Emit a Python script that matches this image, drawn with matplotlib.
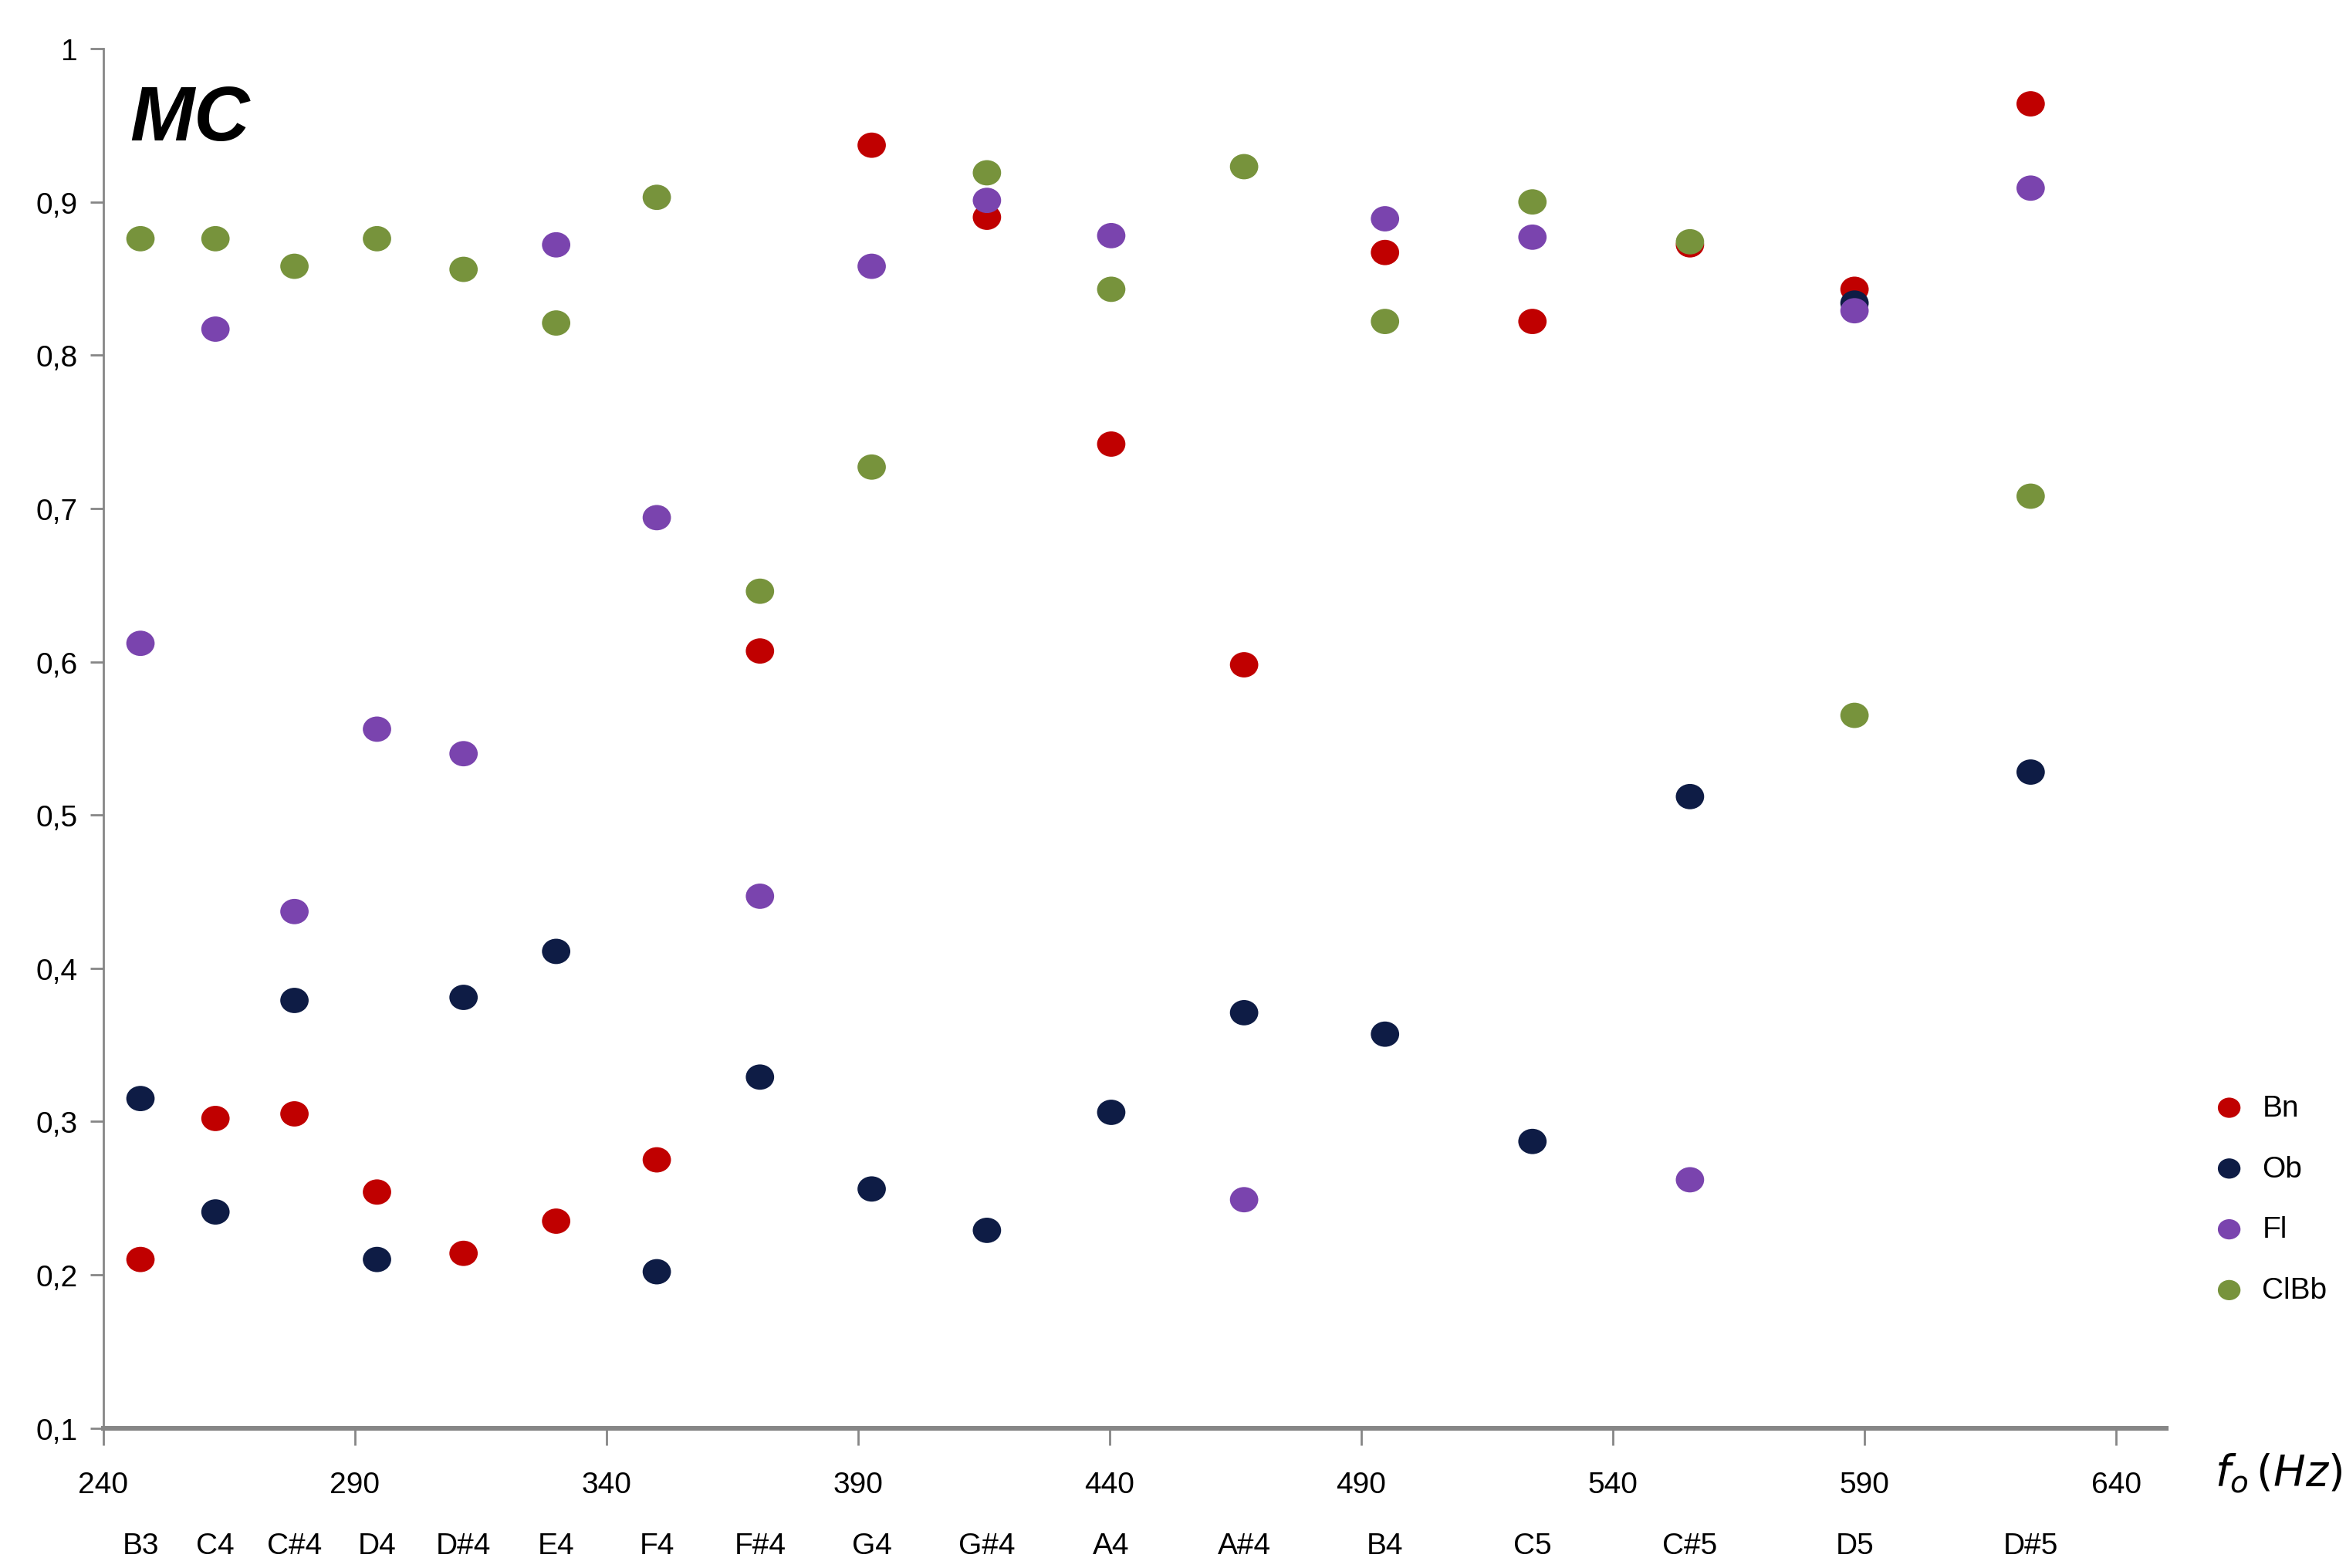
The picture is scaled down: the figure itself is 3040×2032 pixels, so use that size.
import matplotlib
matplotlib.use('Agg')
import matplotlib.pyplot as plt
from matplotlib.path import Path
from matplotlib.transforms import Affine2D

# note names and fundamental frequencies (Hz)
notes = ['B3', 'C4', 'C#4', 'D4', 'D#4', 'E4', 'F4', 'F#4', 'G4', 'G#4',
         'A4', 'A#4', 'B4', 'C5', 'C#5', 'D5', 'D#5']
freqs = [247.4, 262.3, 278.0, 294.4, 311.6, 330.0, 350.0, 370.5, 392.7, 415.6,
         440.3, 466.7, 494.7, 524.0, 555.3, 588.0, 623.0]

bn = [0.210, 0.302, 0.305, 0.254, 0.214, 0.235, 0.275, 0.607, 0.937, 0.890,
      0.742, 0.598, 0.867, 0.822, 0.872, 0.843, 0.964]
ob = [0.315, 0.241, 0.379, 0.210, 0.381, 0.411, 0.202, 0.329, 0.256, 0.229,
      0.306, 0.371, 0.357, 0.287, 0.512, 0.834, 0.528]
fl = [0.612, 0.817, 0.437, 0.556, 0.540, 0.872, 0.694, 0.447, 0.858, 0.901,
      0.878, 0.249, 0.889, 0.877, 0.262, 0.829, 0.909]
clbb = [0.876, 0.876, 0.858, 0.876, 0.856, 0.821, 0.903, 0.646, 0.727, 0.919,
        0.843, 0.923, 0.822, 0.900, 0.874, 0.565, 0.708]

series = [('Bn', bn, '#C00000'), ('Ob', ob, '#0E1C45'),
          ('Fl', fl, '#7A44AE'), ('ClBb', clbb, '#77933C')]

x_ticks = [240, 290, 340, 390, 440, 490, 540, 590, 640]
y_ticks = [0.1, 0.2, 0.3, 0.4, 0.5, 0.6, 0.7, 0.8, 0.9, 1.0]

plt.rcParams['font.family'] = ['Liberation Sans Narrow', 'Liberation Sans', 'DejaVu Sans']

# slightly wide ellipse marker, like the Excel dots
ellipse = Path.unit_circle().transformed(Affine2D().scale(1.12, 1.0))

fig = plt.figure(figsize=(15.2, 10.165), dpi=200)
ax = fig.add_axes([0.044, 0.0892, 0.8795, 0.8793])

for name, vals, col in series:
    ax.scatter(freqs, vals, s=175, marker=ellipse, color=col, edgecolors='none',
               label=name, zorder=3)

ax.set_xlim(240, 650)
ax.set_ylim(0.1, 1.0)
ax.set_xticks(x_ticks)
ax.set_xticklabels([str(v) for v in x_ticks])
ax.set_yticks(y_ticks)
ax.set_yticklabels([('%.1f' % v).replace('.', ',') if v < 1 else '1' for v in y_ticks])

for s in ['top', 'right']:
    ax.spines[s].set_visible(False)
ax.spines['left'].set_color('#868686')
ax.spines['left'].set_linewidth(1.0)
ax.spines['bottom'].set_color('#868686')
ax.spines['bottom'].set_linewidth(2.2)
ax.tick_params(axis='both', colors='#868686', labelcolor='black', labelsize=14,
               length=6, width=1.0)
ax.tick_params(axis='x', pad=12, length=8)
ax.tick_params(axis='y', pad=6)

# note names below the Hz axis
for n, f in zip(notes, freqs):
    ax.text(f, -0.085, n, transform=ax.get_xaxis_transform(), ha='center',
            va='center', fontsize=14)

ax.text(0.013, 0.975, 'MC', transform=ax.transAxes, fontsize=36,
        fontweight='bold', fontstyle='italic', family=['Liberation Sans', 'DejaVu Sans'],
        ha='left', va='top')

fig.text(0.944, 0.061, r'$f_o\,(Hz)$', fontsize=20, ha='left', va='center')

leg = ax.legend(loc='center left', bbox_to_anchor=(1.01, 0.166), frameon=False,
                fontsize=14, handletextpad=0.1, labelspacing=1.1,
                markerscale=0.8, borderaxespad=0)

fig.savefig('out.png', dpi=200, facecolor='white')
